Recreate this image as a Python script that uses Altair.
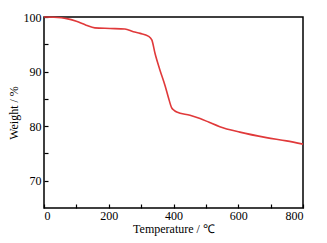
import altair as alt
import pandas as pd

temps = [0, 30, 70, 100, 130, 157, 204, 250, 276, 297, 322, 333, 343, 358, 374, 384, 394, 402, 410, 451, 482, 510, 543, 605, 687, 749, 800]
weights = [100, 99.95, 99.7, 99.2, 98.5, 98.0, 97.9, 97.8, 97.3, 97.0, 96.5, 95.8, 93.3, 90.3, 87.4, 85.3, 83.4, 82.9, 82.6, 82.0, 81.4, 80.7, 79.9, 78.9, 77.9, 77.3, 76.7]

x_ticks = [0, 100, 200, 300, 400, 500, 600, 700, 800]
y_ticks = [70, 75, 80, 85, 90, 95, 100]

df = pd.DataFrame({"T": temps, "W": weights})

font = "Liberation Serif"

chart = alt.Chart(df).mark_line(color="#e0393a", strokeWidth=1.6, interpolate="monotone").encode(
    x=alt.X("T:Q", scale=alt.Scale(domain=[0, 800], nice=False),
            axis=alt.Axis(title="Temperature / ℃", values=x_ticks,
                          labelExpr="datum.value % 200 == 0 ? datum.label : ''",
                          offset=-4, tickSize=4, domain=False, grid=False,
                          labelPadding=2, titlePadding=2, tickColor="black", tickWidth=1.2)),
    y=alt.Y("W:Q", scale=alt.Scale(domain=[65, 100], nice=False),
            axis=alt.Axis(title="Weight / %", values=y_ticks,
                          labelExpr="datum.value % 10 == 0 ? datum.label : ''",
                          offset=-4, tickSize=4, domain=False, grid=False,
                          labelPadding=3, titlePadding=3, tickColor="black", tickWidth=1.2)),
).properties(
    width=259, height=191,
    autosize=alt.AutoSizeParams(type="none"),
    padding={"left": 36, "top": 9, "right": 16, "bottom": 34},
    background="white",
).configure_view(
    stroke="black", strokeWidth=1.5
).configure_axis(
    labelFont=font, titleFont=font, labelFontSize=12, titleFontSize=12,
    labelColor="black", titleColor="black", titleFontWeight="normal",
)

chart.save("out.html", embed_options={"renderer": "svg", "actions": False})
